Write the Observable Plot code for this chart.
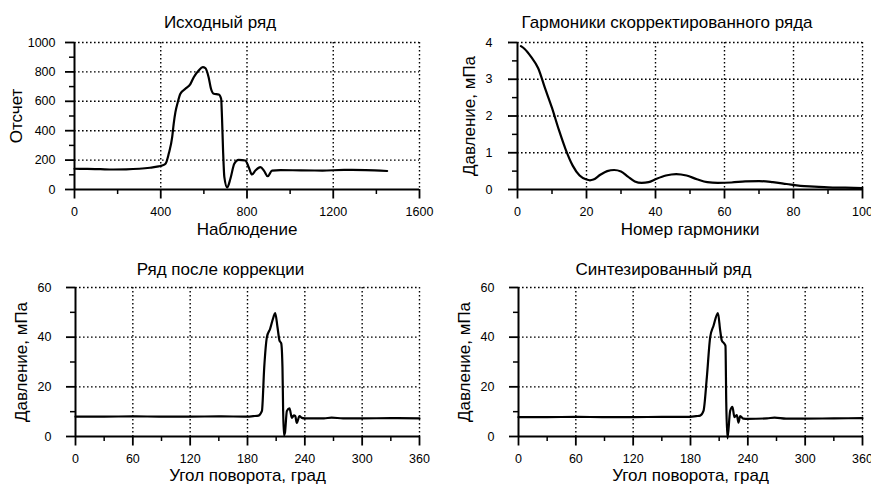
<!DOCTYPE html>
<html><head><meta charset="utf-8">
<script src="https://cdn.jsdelivr.net/npm/d3@7"></script>
<script src="https://cdn.jsdelivr.net/npm/@observablehq/plot@0.6"></script>
<style>
body{margin:0;background:#fff;}
#wrap{position:relative;width:871px;height:486px;overflow:hidden;background:#fff;}
.panel{position:absolute;}
</style></head><body><div id="wrap"></div>
<script>
// Panel 1: raw series
const obsX = [0,60,120,180,240,300,350,390,406,422,437,453,460,468,479,491,514,538,553,576,595,607,622,633,646,669,680,684,689,695,708,723,741,761,792,808,823,839,862,880,896,916,955,1050,1150,1250,1350,1450];
const obsCount = [141,140,138,136,137,141,148,157,163,175,243,356,447,526,594,651,685,719,764,810,832,826,764,685,651,646,617,492,265,84,14,73,175,202,197,152,102,129,152,125,90,129,132,130,129,133,132,126];
// Panel 2: harmonics
const harmN = [1,2,4,6,8,10,12,14,16,18,20,21,22,24,26,28,30,32,34,36,38,40,43,46,49,52,55,58,62,66,70,74,78,82,86,90,95,100];
const harmAmp = [3.9,3.83,3.6,3.3,2.75,2.22,1.62,1.08,0.65,0.38,0.27,0.25,0.27,0.40,0.50,0.53,0.49,0.35,0.22,0.18,0.2,0.28,0.38,0.42,0.38,0.28,0.2,0.18,0.19,0.22,0.23,0.2,0.15,0.1,0.08,0.06,0.05,0.04];
// Panel 3: corrected series
const corrAngle = [0,30,60,90,120,150,180,186,191.5,195.1,197.5,200.3,203.7,207.2,209,211.4,213.5,215.3,216.6,217.3,218.1,219.2,221.2,224,226.4,228.5,230,231.6,234.4,236.9,240,260,268,280,300,330,360];
const corrP = [8,8,8.1,8,8,8.1,8,8.2,8.4,10.3,27.8,40,43.4,48.1,49.7,44,38.6,37.5,27.8,10.3,0.5,1.5,10.3,11.3,7.5,8.5,8.2,5.5,8.2,7.5,7.3,7.3,7.6,7.3,7.3,7.4,7.3];
// Panel 4: synthesized series
const synthAngle = [0,30,60,90,120,150,180,186,190.1,193.6,197.1,200.6,204.1,208.7,211.1,212.8,215.2,216.6,217.4,218.7,221.5,223.9,226,228.5,230.2,232,235.5,240,260,268,280,300,330,360];
const synthP = [7.8,7.8,7.9,7.8,7.8,7.9,7.9,8.2,8.4,10.3,23.8,40,44.6,49.7,42.6,38.6,37.5,36.5,14,-0.8,10.3,11.9,7.8,8.6,5.6,8.2,7.2,7.1,7.3,7.6,7.2,7.2,7.3,7.4];

// ticks
const p1XMajor = [0,400,800,1200,1600], p1XMinor = [200,600,1000,1400];
const p1YMajor = [0,200,400,600,800,1000], p1YMinor = [100,300,500,700,900];
const p2XMajor = [0,20,40,60,80,100], p2XMinor = [10,30,50,70,90];
const p2YMajor = [0,1,2,3,4], p2YMinor = [0.5,1.5,2.5,3.5];
const angMajor = [0,60,120,180,240,300,360], angMinor = [30,90,150,210,270,330];
const pYMajor = [0,20,40,60], pYMinor = [10,30,50];

const titles = ["Исходный ряд","Гармоники скорректированного ряда","Ряд после коррекции","Синтезированный ряд"];
const xLabels = ["Наблюдение","Номер гармоники","Угол поворота, град","Угол поворота, град"];
const yLabels = ["Отсчет","Давление, мПа","Давление, мПа","Давление, мПа"];

const FONT = '"Liberation Sans", Arial, sans-serif';

function panel(cfg) {
  const data = cfg.xs.map((x, i) => ({x, y: cfg.ys[i]}));
  const dash = {stroke: "black", strokeOpacity: 1, strokeWidth: 1.4, strokeDasharray: "1.6,2.4"};
  return Plot.plot({
    width: cfg.width, height: 243,
    marginLeft: cfg.ml, marginRight: cfg.mr, marginTop: cfg.mt, marginBottom: cfg.mb,
    style: {fontSize: "12.5px", fontFamily: FONT, background: "white", color: "black", overflow: "visible"},
    x: {domain: cfg.xDomain},
    y: {domain: cfg.yDomain},
    marks: [
      Plot.gridX(cfg.xMajor.slice(1), dash),
      Plot.gridY(cfg.yMajor.slice(1), dash),
      Plot.axisX(cfg.xMajor, {tickSize: 9.5, tickPadding: cfg.xPad, tickFormat: d => String(d), strokeWidth: 1.8, label: null}),
      Plot.axisX(cfg.xMinor, {tickSize: 5, fill: "none", strokeWidth: 1.5, label: null}),
      Plot.axisY(cfg.yMajor, {tickSize: 9, tickPadding: cfg.yPad, tickFormat: d => String(d), strokeWidth: 1.8, label: null}),
      Plot.axisY(cfg.yMinor, {tickSize: 5, fill: "none", strokeWidth: 1.5, label: null}),
      Plot.ruleX([cfg.xDomain[0]], {strokeWidth: 2}),
      Plot.ruleY([cfg.yDomain[0]], {strokeWidth: 2}),
      Plot.line(data, {x: "x", y: "y", curve: "monotone-x", strokeWidth: 2.2, stroke: "black"}),
      Plot.text([cfg.title], {frameAnchor: "top", dx: cfg.tdx, dy: cfg.tdy, fontSize: 17, textAnchor: "middle", lineAnchor: "middle", fill: "black"}),
      Plot.text([cfg.xLabel], {frameAnchor: "bottom", dy: cfg.xldy, fontSize: 17, textAnchor: "middle", lineAnchor: "middle", fill: "black"}),
      Plot.text([cfg.yLabel], {frameAnchor: "left", dx: cfg.yldx, rotate: -90, fontSize: 17, textAnchor: "middle", lineAnchor: "middle", fill: "black"})
    ]
  });
}

const wrap = document.getElementById("wrap");
const cfgs = [
  {pos: [0, 0], width: 435, ml: 74, mr: 16, mt: 42, mb: 54, xs: obsX, ys: obsCount, xDomain: [0,1600], yDomain: [0,1000],
   xMajor: p1XMajor, xMinor: p1XMinor, yMajor: p1YMajor, yMinor: p1YMinor, xPad: 8.5, yPad: 10,
   title: titles[0], xLabel: xLabels[0], yLabel: yLabels[0], tdx: -27, tdy: -20, xldy: 40, yldx: -58},
  {pos: [435, 0], width: 436, ml: 82, mr: 9, mt: 42, mb: 54, xs: harmN, ys: harmAmp, xDomain: [0,100], yDomain: [0,4],
   xMajor: p2XMajor, xMinor: p2XMinor, yMajor: p2YMajor, yMinor: p2YMinor, xPad: 8.5, yPad: 16,
   title: titles[1], xLabel: xLabels[1], yLabel: yLabels[1], tdx: -23, tdy: -20, xldy: 40, yldx: -48},
  {pos: [0, 243], width: 435, ml: 75, mr: 16, mt: 44, mb: 50, xs: corrAngle, ys: corrP, xDomain: [0,360], yDomain: [0,60],
   xMajor: angMajor, xMinor: angMinor, yMajor: pYMajor, yMinor: pYMinor, xPad: 8.5, yPad: 15,
   title: titles[2], xLabel: xLabels[2], yLabel: yLabels[2], tdx: -27, tdy: -18, xldy: 39.5, yldx: -54},
  {pos: [435, 243], width: 436, ml: 83, mr: 9, mt: 44, mb: 50, xs: synthAngle, ys: synthP, xDomain: [0,360], yDomain: [0,60],
   xMajor: angMajor, xMinor: angMinor, yMajor: pYMajor, yMinor: pYMinor, xPad: 8.5, yPad: 15,
   title: titles[3], xLabel: xLabels[3], yLabel: yLabels[3], tdx: -27, tdy: -18, xldy: 39.5, yldx: -54}
];
for (const c of cfgs) {
  const div = document.createElement("div");
  div.className = "panel";
  div.style.left = c.pos[0] + "px";
  div.style.top = c.pos[1] + "px";
  div.appendChild(panel(c));
  wrap.appendChild(div);
}
</script>
</body></html>
